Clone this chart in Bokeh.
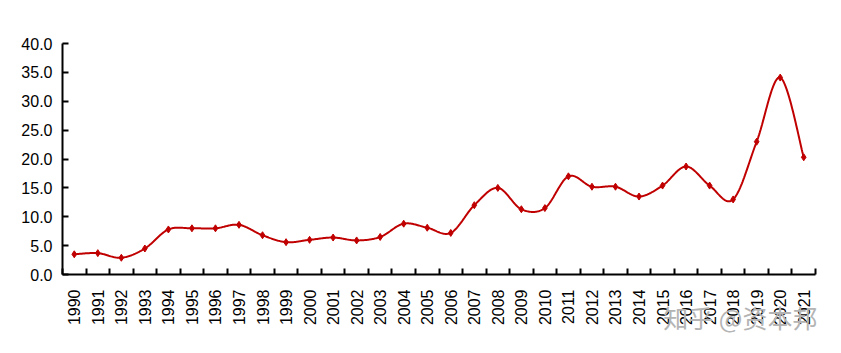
import numpy as np
from bokeh.plotting import figure
from bokeh.models import Range1d, FixedTicker, Title, NumeralTickFormatter
from bokeh.embed import file_html
from bokeh.resources import INLINE

years = [str(y) for y in range(1990, 2022)]
values = [3.5, 3.7, 2.9, 4.5, 7.8, 8.0, 8.0, 8.6, 6.8, 5.6, 6.0, 6.4, 5.9, 6.5, 8.8, 8.1,
          7.2, 12.0, 15.0, 11.3, 11.5, 17.0, 15.2, 15.2, 13.5, 15.4, 18.7, 15.4, 13.0, 23.0, 34.1, 20.3]
y_ticks = [0, 5, 10, 15, 20, 25, 30, 35, 40]

xs = np.arange(len(values), dtype=float)
ys = np.array(values, dtype=float)

# Excel-like smoothed line (cubic Bezier with Catmull-Rom control points)
def smooth(x, y, steps=30):
    n = len(x)
    px, py = [], []
    for i in range(n - 1):
        i0 = max(i - 1, 0)
        i3 = min(i + 2, n - 1)
        p0 = np.array([x[i], y[i]])
        p3 = np.array([x[i + 1], y[i + 1]])
        c1 = p0 + (np.array([x[i + 1], y[i + 1]]) - np.array([x[i0], y[i0]])) / 6.0
        c2 = p3 - (np.array([x[i3], y[i3]]) - np.array([x[i], y[i]])) / 6.0
        t = np.linspace(0, 1, steps, endpoint=(i == n - 2))
        b = ((1 - t) ** 3)[:, None] * p0 + (3 * (1 - t) ** 2 * t)[:, None] * c1 \
            + (3 * (1 - t) * t ** 2)[:, None] * c2 + (t ** 3)[:, None] * p3
        px.extend(b[:, 0]); py.extend(b[:, 1])
    return px, py

sx, sy = smooth(xs, ys)

p = figure(width=841, height=353, output_backend="svg", toolbar_location=None,
           x_range=Range1d(-0.5, len(values) - 0.5), y_range=Range1d(0, 40),
           min_border_left=62, min_border_right=26, min_border_top=43, min_border_bottom=79)
p.outline_line_color = None
p.xgrid.grid_line_color = None
p.ygrid.grid_line_color = None
p.background_fill_color = "white"
p.border_fill_color = "white"

red = "#C00000"
p.line(sx, sy, line_color=red, line_width=2)
p.scatter(xs, ys, marker="diamond", size=7, color=red)

font = "Liberation Sans"
xa = p.xaxis[0]
xa.ticker = FixedTicker(ticks=list(xs), minor_ticks=list(np.arange(-0.5, len(values), 1.0)))
xa.major_label_overrides = {i: years[i] for i in range(len(years))}
xa.major_tick_line_color = None
xa.minor_tick_in = 6
xa.minor_tick_out = 0
xa.minor_tick_line_color = "black"
xa.minor_tick_line_width = 2
xa.axis_line_width = 2
xa.axis_line_color = "black"
xa.major_label_orientation = np.pi / 2
xa.major_label_text_font = font
xa.major_label_text_font_size = "16px"
xa.major_label_text_color = "black"
xa.major_label_standoff = 9

ya = p.yaxis[0]
ya.ticker = FixedTicker(ticks=y_ticks)
ya.formatter = NumeralTickFormatter(format="0.0")
ya.major_tick_in = 6
ya.major_tick_out = 0
ya.major_tick_line_width = 2
ya.major_tick_line_color = "black"
ya.minor_tick_line_color = None
ya.axis_line_width = 2
ya.axis_line_color = "black"
ya.major_label_text_font = font
ya.major_label_text_font_size = "16px"
ya.major_label_text_color = "black"
ya.major_label_standoff = 10

wm = Title(text="知乎 @资本邦", align="right", text_font="Noto Sans CJK SC",
           text_font_size="25px", text_color="#b4b4b4", text_font_style="normal",
           vertical_align="top", standoff=-60, offset=-2)
p.add_layout(wm, "below")

open("out.html", "w").write(file_html(p, INLINE))
